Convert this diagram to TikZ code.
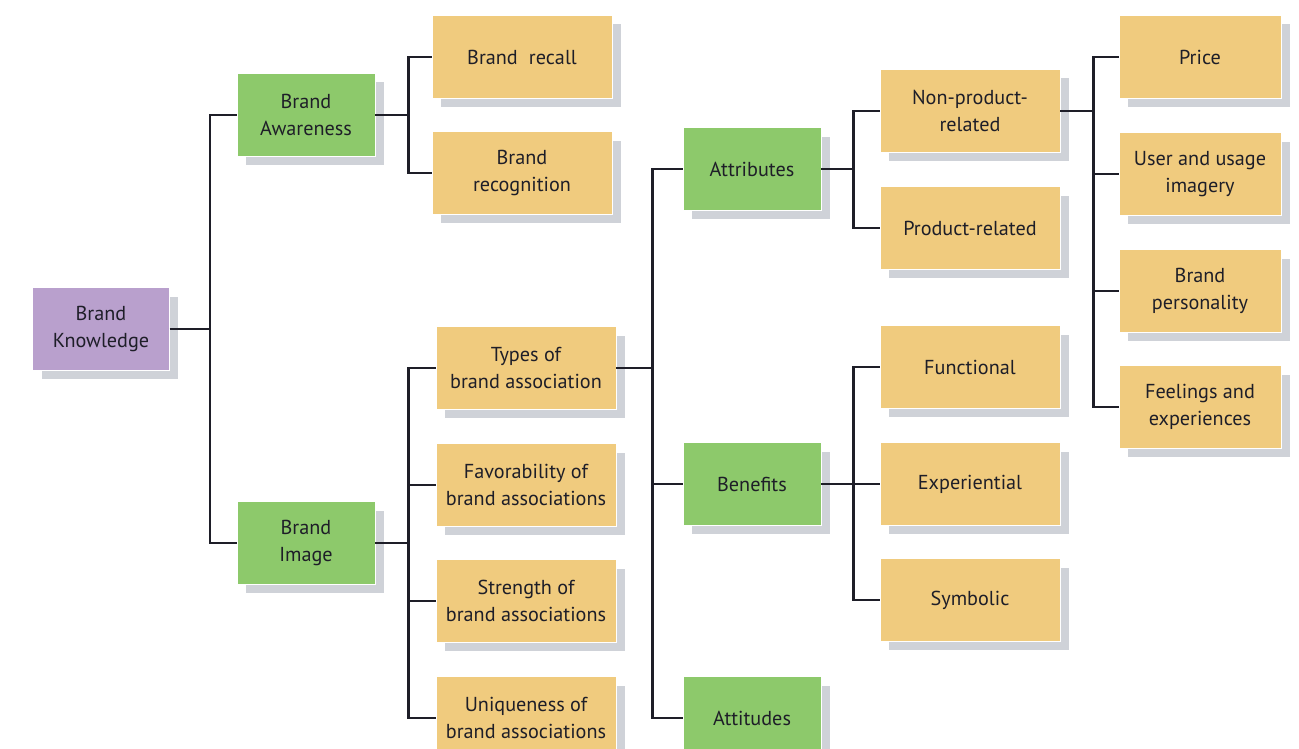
\documentclass[tikz,border=0pt]{standalone}
\usepackage{fontspec}
\setmainfont{PT Sans}
\usetikzlibrary{shadows}
\definecolor{rootpurple}{HTML}{B9A0CD}
\definecolor{midgreen}{HTML}{8DC96B}
\definecolor{leaftan}{HTML}{F0CB7E}
\definecolor{shadegray}{HTML}{CFD2D8}
\definecolor{inkdark}{HTML}{1E1E28}
\tikzset{box/.style={draw=white,line width=.5pt,minimum height=1.66cm,align=center,
    inner sep=2pt,text=inkdark,font=\fontsize{11.5}{15.5}\selectfont,
    drop shadow={shadow xshift=.18cm,shadow yshift=-.18cm,fill=shadegray,opacity=1}},
  rootbox/.style={box,fill=rootpurple,minimum width=2.74cm},
  midbox/.style={box,fill=midgreen,minimum width=2.76cm},
  leafbox/.style={box,fill=leaftan,minimum width=3.6cm},
  tipbox/.style={leafbox,minimum width=3.24cm},
  link/.style={line width=1.3pt,inkdark}}

\begin{document}
\begin{tikzpicture}[x=0.02cm,y=-0.02cm]
\clip (0,0) rectangle (1299,749);
\fill[white] (0,0) rectangle (1299,749);
% root and first level
\node[rootbox] (bk) at (101,329) {Brand\\Knowledge};
\node[midbox] (aw) at (306,115) {Brand\\Awareness};
\node[midbox] (im) at (306,543) {Brand\\Image};
% awareness
\node[leafbox] (rc) at (522,57) {Brand\hspace{.55em}recall};
\node[leafbox] (rg) at (522,173) {Brand\\recognition};
% image
\node[leafbox] (ty) at (526,368) {Types of\\brand association};
\node[leafbox] (fa) at (526,485) {Favorability of\\brand associations};
\node[leafbox] (st) at (526,601) {Strength of\\brand associations};
\node[leafbox] (un) at (526,718) {Uniqueness of\\brand associations};
% types
\node[midbox] (at) at (752,169) {Attributes};
\node[midbox] (be) at (752,484) {Benefits};
\node[midbox] (tu) at (752,718) {Attitudes};
\node[leafbox] (np) at (970,111) {Non-product-\\related};
\node[leafbox] (pr) at (970,228) {Product-related};
\node[leafbox] (fu) at (970,367) {Functional};
\node[leafbox] (ex) at (970,484) {Experiential};
\node[leafbox] (sy) at (970,600) {Symbolic};
% non-product-related
\node[tipbox] (pc) at (1200,57) {Price};
\node[tipbox] (us) at (1200,174) {User and usage\\imagery};
\node[tipbox] (bp) at (1200,291) {Brand\\personality};
\node[tipbox] (fe) at (1200,407) {Feelings and\\experiences};
% elbow connectors
\foreach \p/\k/\d in {bk/aw/40,bk/im/40,aw/rc/33,aw/rg/33,im/ty/33,im/fa/33,im/st/33,im/un/33,
    ty/at/36,ty/be/36,ty/tu/36,at/np/32,at/pr/32,be/fu/32,be/ex/32,be/sy/32,
    np/pc/33,np/us/33,np/bp/33,np/fe/33}
  \draw[link] (\p.east) -- ++(\d,0) |- (\k.west);
\end{tikzpicture}
\end{document}
